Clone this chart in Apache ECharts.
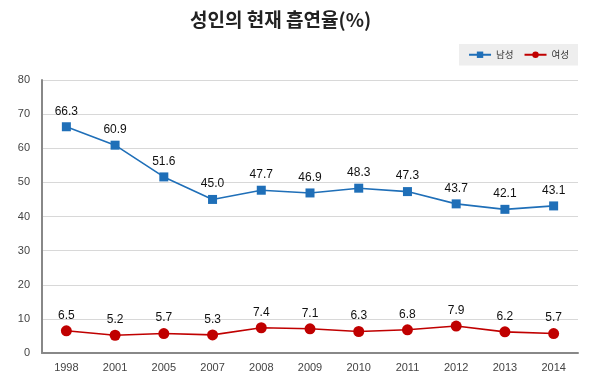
<!DOCTYPE html>
<html><head><meta charset="utf-8">
<script src="https://cdn.jsdelivr.net/npm/echarts@6/dist/echarts.min.js"></script>
<style>html,body{margin:0;padding:0;background:#fff}#c{width:600px;height:382px}</style>
</head><body><div id="c"></div>
<script>
const categories = ['1998','2001','2005','2007','2008','2009','2010','2011','2012','2013','2014'];
const male = [66.3, 60.9, 51.6, 45.0, 47.7, 46.9, 48.3, 47.3, 43.7, 42.1, 43.1];
const female = [6.5, 5.2, 5.7, 5.3, 7.4, 7.1, 6.3, 6.8, 7.9, 6.2, 5.7];
const yTicks = [0, 10, 20, 30, 40, 50, 60, 70, 80];
const font = '"Noto Sans CJK KR", "Noto Sans", sans-serif';
const numFont = '"Liberation Sans", Arial, sans-serif';
const chart = echarts.init(document.getElementById('c'), null, {renderer:'canvas'});
chart.setOption({
  animation:false,
  backgroundColor:'#fff',
  title:{text:'성인의 현재 흡연율(%)', left:185, top:5,
    textStyle:{fontFamily:font, fontSize:19, fontWeight:'bold', color:'#222'}},
  legend:{right:22, top:44, backgroundColor:'#eeeeee', padding:[6,9,6,9], itemGap:10,
    itemWidth:22, itemHeight:8,
    textStyle:{fontFamily:font, fontSize:9.5, color:'#333'},
    data:['남성','여성']},
  grid:{left:42, right:22, top:80, bottom:29},
  xAxis:{type:'category', data:categories, boundaryGap:true,
    axisLine:{lineStyle:{color:'#888', width:2}}, axisTick:{show:false},
    axisLabel:{fontFamily:numFont, fontSize:11, color:'#444', margin:9}},
  yAxis:{type:'value', min:yTicks[0], max:yTicks[yTicks.length-1], interval:10,
    axisLine:{show:true, lineStyle:{color:'#888', width:2}}, axisTick:{show:false},
    splitLine:{lineStyle:{color:'#d8d8d8'}},
    axisLabel:{fontFamily:numFont, fontSize:11, color:'#444', margin:12}},
  series:[
    {name:'남성', type:'line', data:male, symbol:'rect', symbolSize:9,
      itemStyle:{color:'#1f6fb8'}, lineStyle:{width:1.6, color:'#1f6fb8'},
      label:{show:true, position:'top', distance:5, color:'#111', fontSize:12,
        fontFamily:numFont, formatter:p=>p.value.toFixed(1)}},
    {name:'여성', type:'line', data:female, symbol:'circle', symbolSize:11,
      itemStyle:{color:'#c00000'}, lineStyle:{width:1.6, color:'#c00000'},
      label:{show:true, position:'top', distance:4, color:'#111', fontSize:12,
        fontFamily:numFont, formatter:p=>p.value.toFixed(1)}}
  ]
});
</script></body></html>
